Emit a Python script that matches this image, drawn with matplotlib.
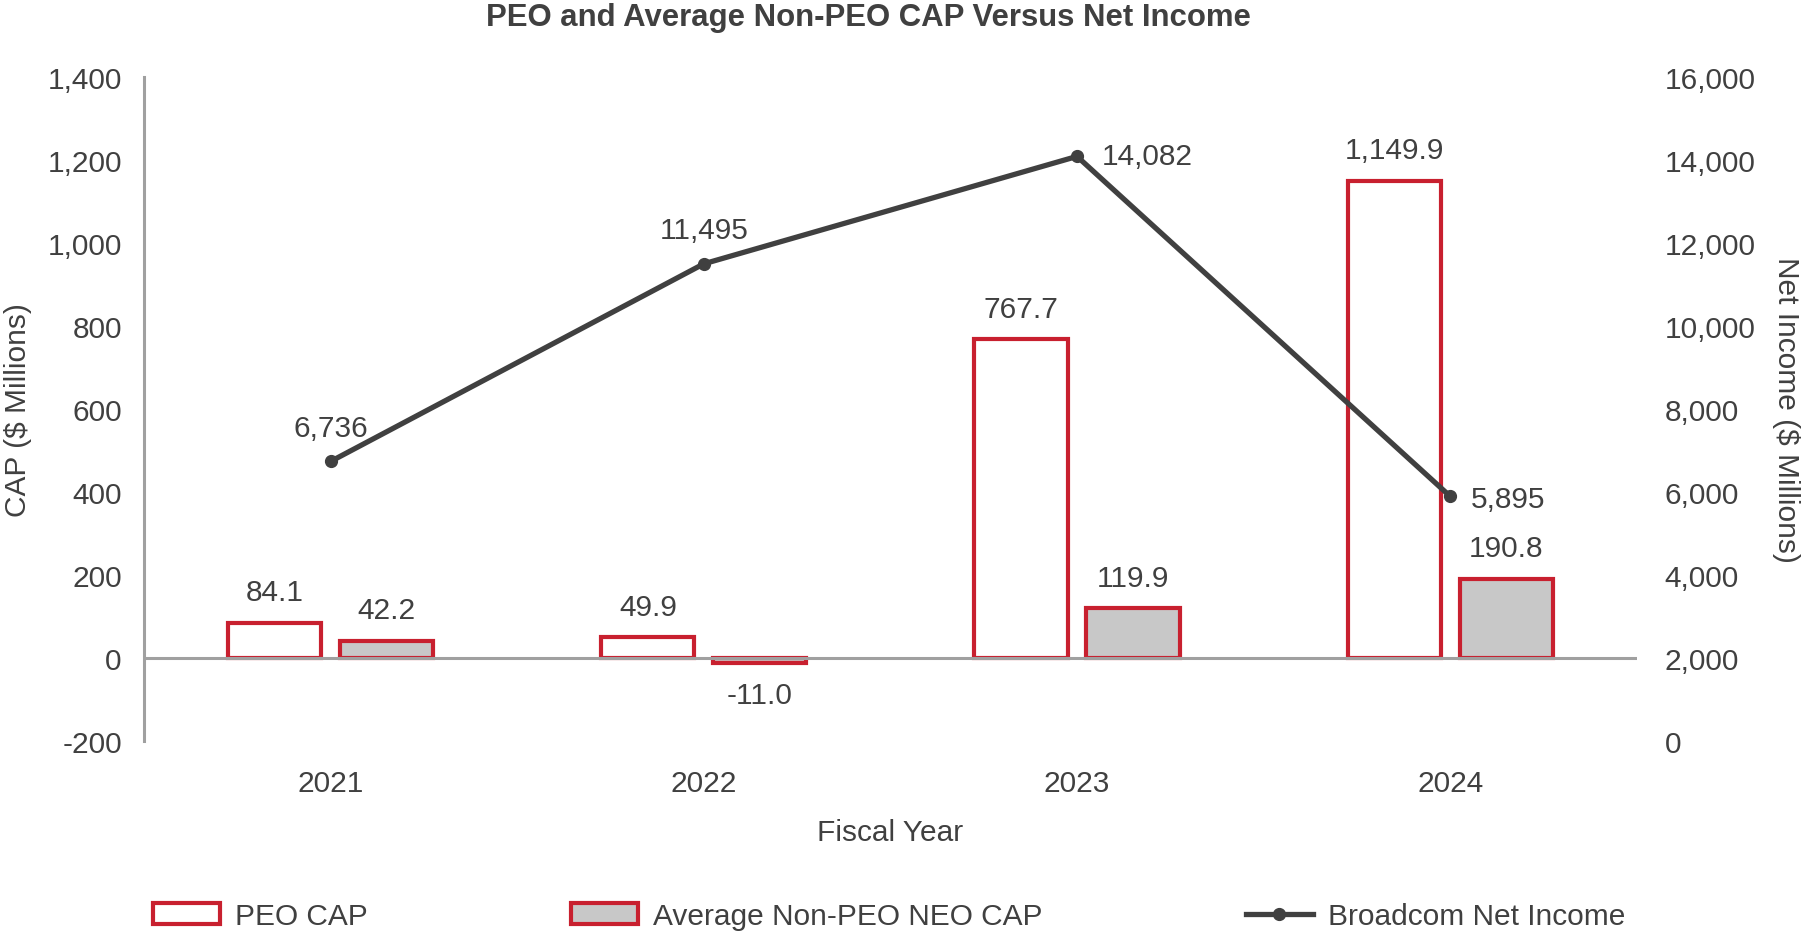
import matplotlib.pyplot as plt
from matplotlib.lines import Line2D
from matplotlib.patches import Patch
import numpy as np

plt.rcParams['font.family'] = ['Liberation Sans', 'DejaVu Sans']

years = ["2021", "2022", "2023", "2024"]
peo_cap = [84.1, 49.9, 767.7, 1149.9]
neo_cap = [42.2, -11.0, 119.9, 190.8]
net_income = [6736, 11495, 14082, 5895]

TXT = "#404040"
RED = "#c8202f"
FILL = "#c8c8c8"
AXIS = "#a0a0a0"
FS = 21.5

fig = plt.figure(figsize=(18.05, 9.37), dpi=100)
ax = fig.add_axes([0.0798, 0.208, 0.827, 0.709])
ax2 = ax.twinx()

x = np.arange(len(years))
w = 0.25
off = 0.15
ax.bar(x - off, peo_cap, w, facecolor="white", edgecolor=RED, linewidth=3, zorder=3)
ax.bar(x + off, neo_cap, w, facecolor=FILL, edgecolor=RED, linewidth=3, zorder=3)
ax.axhline(0, color=AXIS, linewidth=2.2, zorder=4)

for xi, v in zip(x, peo_cap):
    ax.annotate(f"{v:,.1f}", (xi - off, v), xytext=(0, 12), textcoords="offset points",
                ha="center", va="bottom", fontsize=FS, color=TXT)
for xi, v in zip(x, neo_cap):
    if v >= 0:
        ax.annotate(f"{v:,.1f}", (xi + off, v), xytext=(0, 12), textcoords="offset points",
                    ha="center", va="bottom", fontsize=FS, color=TXT)
    else:
        ax.annotate(f"{v:,.1f}", (xi + off, v), xytext=(0, -13), textcoords="offset points",
                    ha="center", va="top", fontsize=FS, color=TXT)

ax2.plot(x, net_income, color=TXT, linewidth=3.8, marker="o", markersize=8.5, zorder=5)
label_pos = [("center", "bottom", 0, 14), ("center", "bottom", 0, 14),
             ("left", "center", 18, 0), ("left", "center", 15, -2)]
for xi, v, (ha, va, dx, dy) in zip(x, net_income, label_pos):
    ax2.annotate(f"{v:,}", (xi, v), xytext=(dx, dy), textcoords="offset points",
                 ha=ha, va=va, fontsize=FS, color=TXT)

ax.set_xlim(-0.5, 3.5)
ax.set_ylim(-200, 1400)
ax2.set_ylim(0, 16000)
ax.set_yticks(range(-200, 1401, 200))
ax.set_yticklabels([f"{t:,}" for t in range(-200, 1401, 200)])
ax2.set_yticks(range(0, 16001, 2000))
ax2.set_yticklabels([f"{t:,}" for t in range(0, 16001, 2000)])
ax.set_xticks(x)
ax.set_xticklabels(years)

for a in (ax, ax2):
    for s in ("top", "right", "bottom"):
        a.spines[s].set_visible(False)
ax2.spines["left"].set_visible(False)
ax.spines["left"].set_color(AXIS)
ax.spines["left"].set_linewidth(2.2)

ax.tick_params(axis="y", length=0, pad=16, labelsize=FS, labelcolor=TXT)
ax.tick_params(axis="x", length=0, pad=20, labelsize=FS, labelcolor=TXT)
ax2.tick_params(axis="y", length=0, pad=20, labelsize=FS, labelcolor=TXT)

ax.set_xlabel("Fiscal Year", fontsize=FS, color=TXT, labelpad=15)
ax.set_ylabel("CAP ($ Millions)", fontsize=FS, color=TXT, labelpad=11)
ax2.set_ylabel("Net Income ($ Millions)", fontsize=FS, color=TXT, rotation=270,
               labelpad=32)

fig.text(0.481, 0.981, "PEO and Average Non-PEO CAP Versus Net Income", ha="center",
         va="center", fontsize=22.4, fontweight="bold", color=TXT)

handles = [
    Patch(facecolor="white", edgecolor=RED, linewidth=3),
    Patch(facecolor=FILL, edgecolor=RED, linewidth=3),
    Line2D([0], [0], color=TXT, linewidth=3.8, marker="o", markersize=8.5),
]
labels = ["PEO CAP", "Average Non-PEO NEO CAP", "Broadcom Net Income"]
fig.legend(handles, labels, loc="center", bbox_to_anchor=(0.4925, 0.021), ncol=3,
           frameon=False, fontsize=FS, labelcolor=TXT, columnspacing=6.8,
           handlelength=2.25, handleheight=0.7, handletextpad=0.5)

fig.savefig("out.png", dpi=100)
